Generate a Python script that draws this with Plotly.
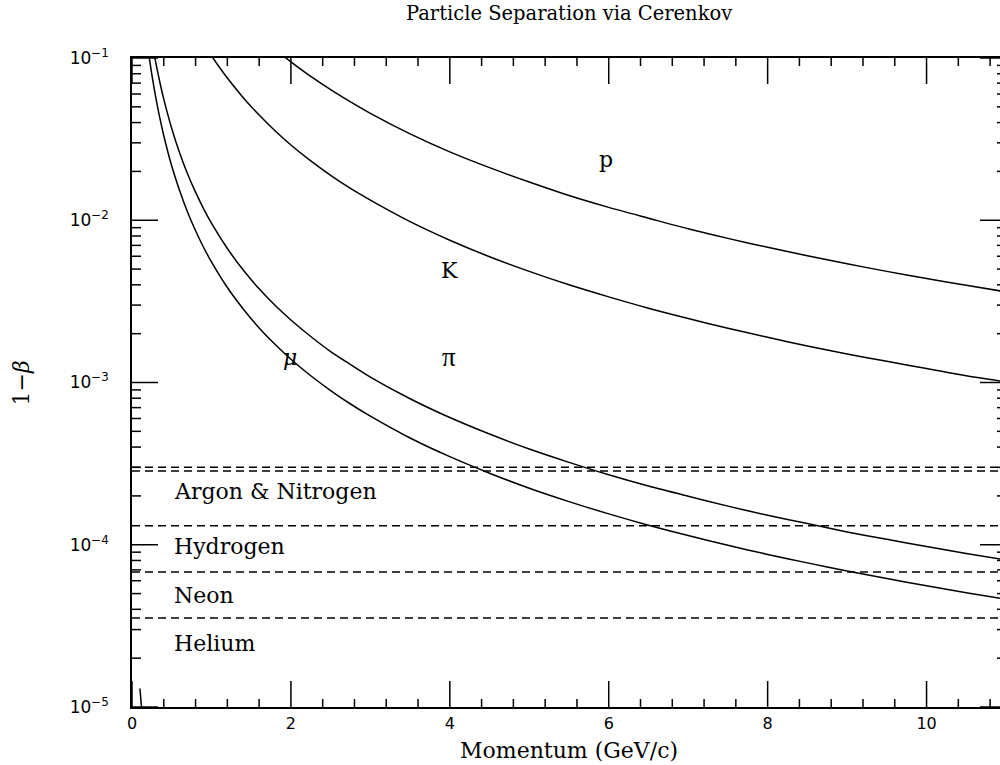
import math
import plotly.graph_objects as go

# ---- data ----
p_e = [0.1, 0.2]
e_val = [1.3e-5, 3.3e-6]

p_mu = [0.1, 0.15, 0.2, 0.25, 0.3, 0.35, 0.4, 0.5, 0.6, 0.7, 0.8, 0.9, 1.0, 1.2, 1.4, 1.6, 1.8, 2.0,
        2.25, 2.5, 2.75, 3.0, 3.5, 4.0, 4.5, 5.0, 5.5, 6.0, 6.5, 7.0, 7.5, 8.0, 8.5, 9.0, 9.5, 10.0, 10.5, 11.0]
mu_val = [0.313, 0.1825, 0.1158, 0.0789, 0.0568, 0.0427, 0.0332, 0.0216, 0.0152, 0.0112, 0.00861, 0.00682,
          0.00554, 0.00385, 0.00284, 0.00217, 0.00172, 0.00139, 0.00110, 0.000892, 0.000737, 0.000620,
          0.000455, 0.000349, 0.000276, 0.000223, 0.0001845, 0.000155, 0.000132, 0.000114, 9.92e-5,
          8.72e-5, 7.73e-5, 6.89e-5, 6.19e-5, 5.58e-5, 5.06e-5, 4.61e-5]

p_pi = p_mu
pi_val = [0.4176, 0.2679, 0.1799, 0.1268, 0.0933, 0.0711, 0.0558, 0.0368, 0.0260, 0.0193, 0.0149, 0.0118,
          0.00960, 0.00670, 0.00493, 0.00378, 0.00299, 0.00243, 0.00192, 0.00155, 0.00129, 0.00108,
          0.000794, 0.000608, 0.000481, 0.000389, 0.000322, 0.000270, 0.000230, 0.000199, 0.000173,
          0.000152, 0.000135, 0.000120, 0.000108, 9.74e-5, 8.83e-5, 8.05e-5]

p_k = [0.9, 1.0, 1.1, 1.2, 1.4, 1.6, 1.8, 2.0, 2.25, 2.5, 2.75, 3.0, 3.5, 4.0, 4.5, 5.0, 5.5, 6.0, 6.5,
       7.0, 7.5, 8.0, 8.5, 9.0, 9.5, 10.0, 10.5, 11.0]
k_val = [0.1232, 0.1033, 0.0877, 0.0752, 0.0569, 0.0445, 0.0356, 0.0291, 0.0232, 0.0189, 0.0157, 0.0133,
         0.00980, 0.00753, 0.00596, 0.00484, 0.00400, 0.00337, 0.00287, 0.00248, 0.00216, 0.00190,
         0.00168, 0.00150, 0.00135, 0.00122, 0.00110, 0.00101]

p_p = [1.8, 1.9, 2.0, 2.25, 2.5, 2.75, 3.0, 3.5, 4.0, 4.5, 5.0, 5.5, 6.0, 6.5, 7.0, 7.5, 8.0, 8.5, 9.0,
       9.5, 10.0, 10.5, 11.0]
p_val = [0.1132, 0.1034, 0.0947, 0.0770, 0.0638, 0.0536, 0.0456, 0.0341, 0.0264, 0.0211, 0.0172, 0.0142,
         0.0120, 0.0103, 0.00886, 0.00773, 0.00681, 0.00604, 0.00539, 0.00484, 0.00437, 0.00397, 0.00362]

gas_thresholds = [3.0e-4, 2.85e-4, 1.31e-4, 6.8e-5, 3.53e-5]
gas_x = [0, 11]

gas_labels = ["Argon & Nitrogen", "Hydrogen", "Neon", "Helium"]
gas_label_x = [0.5, 0.5, 0.5, 0.5]
gas_label_y = [2.12e-4, 9.7e-5, 4.84e-5, 2.45e-5]

particle_labels = ["p", "K", "<i>μ</i>", "π"]
particle_label_x = [5.96, 3.99, 1.99, 3.99]
particle_label_y = [0.0236, 4.89e-3, 1.42e-3, 1.44e-3]

x_tickvals = [0, 2, 4, 6, 8, 10]
x_ticktext = ["0", "2", "4", "6", "8", "10"]
x_minor = [round(0.4 * i, 1) for i in range(28) if i % 5 != 0]
y_tickvals = [1e-5, 1e-4, 1e-3, 1e-2, 1e-1]
y_ticktext = ["10<sup>−5</sup>", "10<sup>−4</sup>", "10<sup>−3</sup>", "10<sup>−2</sup>", "10<sup>−1</sup>"]
y_minor = [m * 10.0 ** d for d in range(-5, -1) for m in range(2, 10)]

SERIF = "DejaVu Serif"
SANS = "DejaVu Sans"
BLACK = "black"
MAJOR_LEN = 26
X_MINOR_LEN = 8
Y_MINOR_LEN = 9

fig = go.Figure()
for xs, ys in [(p_e, e_val), (p_mu, mu_val), (p_pi, pi_val), (p_k, k_val), (p_p, p_val)]:
    fig.add_trace(go.Scatter(x=xs, y=ys, mode="lines",
                             line=dict(color=BLACK, width=1.5, shape="spline", smoothing=0.8),
                             hoverinfo="skip"))
for v in gas_thresholds:
    fig.add_trace(go.Scatter(x=gas_x, y=[v, v], mode="lines",
                             line=dict(color=BLACK, width=1.5, dash="8px,5px"), hoverinfo="skip"))

# inward tick marks on all four sides (drawn from the tick lists, pixel lengths)
tick_line = dict(color=BLACK, width=1.5)
for vals, ln in [(x_tickvals, MAJOR_LEN), (x_minor, X_MINOR_LEN)]:
    for v in vals:
        fig.add_shape(type="line", xref="x", yref="paper", x0=v, x1=v, ysizemode="pixel",
                      yanchor=0, y0=0, y1=ln, line=tick_line, layer="above")
        fig.add_shape(type="line", xref="x", yref="paper", x0=v, x1=v, ysizemode="pixel",
                      yanchor=1, y0=0, y1=-ln, line=tick_line, layer="above")
for vals, ln in [(y_tickvals, MAJOR_LEN), (y_minor, Y_MINOR_LEN)]:
    for v in vals:
        fig.add_shape(type="line", xref="paper", yref="y", y0=v, y1=v, xsizemode="pixel",
                      xanchor=0, x0=0, x1=ln, line=tick_line, layer="above")
        fig.add_shape(type="line", xref="paper", yref="y", y0=v, y1=v, xsizemode="pixel",
                      xanchor=1, x0=0, x1=-ln, line=tick_line, layer="above")

for t, xv, yv in zip(gas_labels, gas_label_x, gas_label_y):
    fig.add_annotation(x=xv, y=math.log10(yv), xref="x", yref="y", text=t, showarrow=False,
                       xanchor="left", yanchor="middle", font=dict(family=SERIF, size=22, color=BLACK))
for t, xv, yv in zip(particle_labels, particle_label_x, particle_label_y):
    fam, sz = ("Liberation Serif", 27) if t == "π" else (SERIF, 22)
    fig.add_annotation(x=xv, y=math.log10(yv), xref="x", yref="y", text=t, showarrow=False,
                       xanchor="center", yanchor="middle", font=dict(family=fam, size=sz, color=BLACK))

fig.add_annotation(x=5.5, xref="x", y=-0.0663, yref="paper", text="Momentum (GeV/c)", showarrow=False,
                   xanchor="center", yanchor="middle", font=dict(family=SERIF, size=22, color=BLACK))
fig.add_annotation(x=-0.1259, xref="paper", y=0.5, yref="paper", text="1−<i>β</i>", showarrow=False,
                   textangle=-90, xanchor="center", yanchor="middle",
                   font=dict(family=SERIF, size=22, color=BLACK))
fig.add_annotation(x=5.5, xref="x", y=1.068, yref="paper", text="Particle Separation via Cerenkov",
                   showarrow=False, xanchor="center", yanchor="middle",
                   font=dict(family=SERIF, size=19.5, color=BLACK))

fig.update_layout(
    width=1006, height=765,
    margin=dict(l=132, r=0, t=58, b=58, pad=0),
    paper_bgcolor="white", plot_bgcolor="white",
    showlegend=False,
    xaxis=dict(range=[0, 11], showline=True, linecolor=BLACK, linewidth=1.5, mirror=True,
               ticks="", tickmode="array", tickvals=x_tickvals, ticktext=x_ticktext,
               tickfont=dict(family=SANS, size=16, color=BLACK), ticklabelstandoff=1,
               showgrid=False, zeroline=False),
    yaxis=dict(type="log", range=[-5, -1], showline=True, linecolor=BLACK, linewidth=1.5, mirror=False,
               ticks="", tickmode="array", tickvals=y_tickvals, ticktext=y_ticktext,
               tickfont=dict(family=SANS, size=17, color=BLACK), ticklabelstandoff=18,
               showgrid=False, zeroline=False),
)

# page without body margin / scrollbars so the figure starts at the window's corner
fig.write_html(
    "out.html",
    config={"displayModeBar": False},
    post_script="document.body.style.margin='0';"
                "document.documentElement.style.overflow='hidden';"
                "document.body.style.overflow='hidden';",
)
